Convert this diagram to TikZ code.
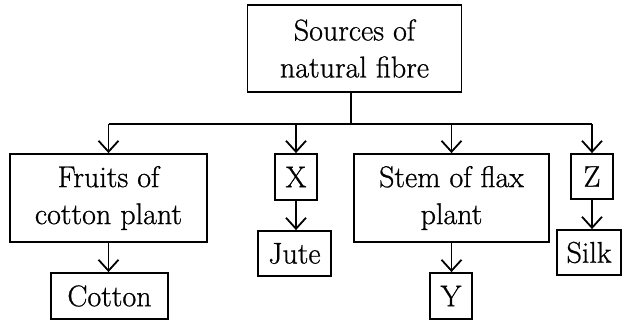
\documentclass[tikz,border=0pt]{standalone}
\usepackage{fontspec}
\newfontfamily\fibrefont{Latin Modern Roman}[FakeBold=0.8]
\usetikzlibrary{arrows.meta}

\tikzset{
  fibre box/.style={draw, rectangle, line width=1.8pt, inner sep=0pt,
    align=center, font=\fibrefont\fontsize{30}{37}\selectfont},
  fibre line/.style={line width=1.8pt},
  fibre arrow/.style={fibre line, -{Straight Barb[length=11pt,width=20pt]}}
}

\begin{document}
\begin{tikzpicture}[x=1pt,y=-1pt]
	    \useasboundingbox (0,0) rectangle (622,320);

	    % Setup the boxes:
	    \node [fibre box, minimum width=214pt, minimum height=87pt]
		(sources) at (354.5,48.5) {Sources of\\natural fibre};

	    \node [fibre box, minimum width=197pt, minimum height=88pt]
		(fruits) at (108.5,198) {Fruits of\\cotton plant};
	    \node [fibre box, minimum width=42pt, minimum height=46pt]
		(x) at (296,177) {X};
	    \node [fibre box, minimum width=195pt, minimum height=88pt]
		(stem) at (451.5,198) {Stem of flax\\plant};
	    \node [fibre box, minimum width=42pt, minimum height=45pt]
		(z) at (592,176.5) {Z};

	    \node [fibre box, minimum width=117pt, minimum height=46pt]
		(cotton) at (109.5,296) {Cotton};
	    \node [fibre box, minimum width=73pt, minimum height=45pt]
		(jute) at (294.5,253.5) {Jute};
	    \node [fibre box, minimum width=42pt, minimum height=46pt]
		(y) at (451,296) {Y};
	    \node [fibre box, minimum width=64pt, minimum height=45pt]
		(silk) at (589,252.5) {Silk};

	    % Draw the trunk and the bus
	    \coordinate (bus) at (351,124);
	    \draw [fibre line] (bus |- sources.south) -- (bus);
	    \draw [fibre line] (fruits.north |- bus) -- (z.north |- bus);

	    % Arrows down to the sources
	    \draw [fibre arrow] (fruits.north |- bus) -- (fruits.north);
	    \draw [fibre arrow] (x.north |- bus) -- (x.north);
	    \draw [fibre arrow] (stem.north |- bus) -- (stem.north);
	    \draw [fibre arrow] (z.north |- bus) -- (z.north);

	    % And on to the fibres
	    \draw [fibre arrow] (fruits.south) -- (cotton.north -| fruits.south);
	    \draw [fibre arrow] (x.south) -- (jute.north -| x.south);
	    \draw [fibre arrow] (stem.south) -- (y.north -| stem.south);
	    \draw [fibre arrow] (z.south) -- (silk.north -| z.south);
	\end{tikzpicture}
\end{document}
